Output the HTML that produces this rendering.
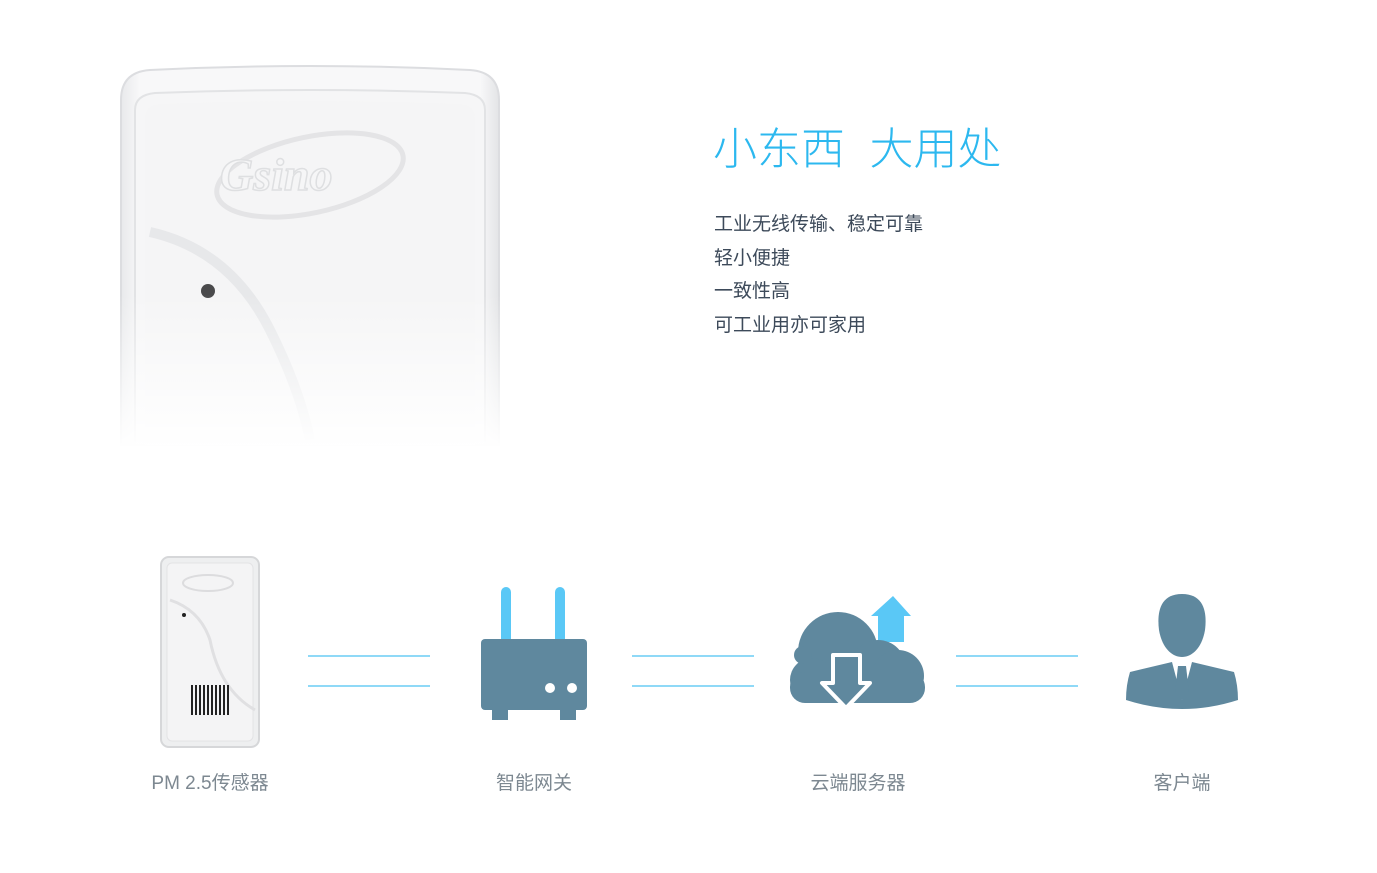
<!DOCTYPE html>
<html><head><meta charset="utf-8"><style>
html,body{margin:0;padding:0;background:#fff;width:1377px;height:873px;overflow:hidden;position:relative;font-family:"Liberation Sans","Noto Sans CJK SC",sans-serif}
.t{position:absolute;white-space:nowrap}
.title{left:713px;top:113px;font-size:44px;color:#2cb8ef;font-weight:300;letter-spacing:0px}
.li{left:714px;font-size:19px;color:#3d4a5a;line-height:24px}
.lab{font-size:19px;color:#7d8891;top:768px;text-align:center;width:200px}
.ln{position:absolute;height:2px;background:#8fd9f7;width:122px}
</style></head><body>
<svg width="1377" height="873" style="position:absolute;left:0;top:0">
<defs>
<linearGradient id="fade" x1="0" y1="0" x2="0" y2="1">
<stop offset="0" stop-color="#fff" stop-opacity="0"/>
<stop offset="0.6" stop-color="#fff" stop-opacity="0"/>
<stop offset="1" stop-color="#fff" stop-opacity="1"/>
</linearGradient>
<linearGradient id="body" x1="0" y1="0" x2="1" y2="0">
<stop offset="0" stop-color="#e8e9eb"/><stop offset="0.05" stop-color="#f8f8f9"/><stop offset="0.95" stop-color="#f8f8f9"/><stop offset="1" stop-color="#e3e4e6"/>
</linearGradient>
</defs>
<path d="M121 100 Q121 72 150 70 Q310 62 470 70 Q499 72 499 100 L499 445 L121 445 Z" fill="url(#body)" stroke="#dcdde0" stroke-width="2"/>
<path d="M135 110 Q135 95 155 93 Q310 87 465 93 Q485 95 485 110 L485 445 L135 445 Z" fill="#f6f6f7" stroke="#e2e3e5" stroke-width="2"/>
<path d="M145 118 Q145 105 160 104 Q310 98 460 104 Q475 105 475 118 L475 445 L145 445 Z" fill="#f5f5f6"/>
<ellipse cx="310" cy="175" rx="95" ry="38" transform="rotate(-12 310 175)" fill="none" stroke="#e4e4e6" stroke-width="5"/>
<text x="220" y="190" font-family="Liberation Serif,serif" font-style="italic" font-weight="bold" font-size="46" fill="#f6f6f7" stroke="#dedfe1" stroke-width="1.5">Gsino</text>
<path d="M150 232 Q230 250 270 330 Q300 390 310 440" fill="none" stroke="#e4e5e7" stroke-width="10" opacity="0.8"/>
<circle cx="208" cy="291" r="7" fill="#4a4a4c"/>
<rect x="110" y="60" width="400" height="390" fill="url(#fade)"/>
<rect x="161" y="557" width="98" height="190" rx="8" fill="#eeeff0" stroke="#d6d7d9" stroke-width="2"/>
<rect x="167" y="563" width="86" height="178" rx="5" fill="#f4f4f5" stroke="#e3e3e5"/>
<ellipse cx="208" cy="583" rx="25" ry="8" fill="none" stroke="#dcdcde" stroke-width="2"/>
<path d="M170 600 Q200 610 210 640 Q220 690 255 710" fill="none" stroke="#e0e0e2" stroke-width="3"/>
<circle cx="184" cy="615" r="2" fill="#222"/>
<g fill="#222">
<rect x="191" y="685" width="2" height="30"/><rect x="195" y="685" width="2" height="30"/><rect x="199" y="685" width="2" height="30"/><rect x="203" y="685" width="2" height="30"/><rect x="207" y="685" width="2" height="30"/><rect x="211" y="685" width="2" height="30"/><rect x="215" y="685" width="2" height="30"/><rect x="219" y="685" width="2" height="30"/><rect x="223" y="685" width="2" height="30"/><rect x="227" y="685" width="2" height="30"/>
</g>
<rect x="501" y="587" width="10" height="58" rx="5" fill="#5ac8f6"/>
<rect x="555" y="587" width="10" height="58" rx="5" fill="#5ac8f6"/>
<rect x="481" y="639" width="106" height="71" rx="4" fill="#5f889e"/>
<rect x="492" y="706" width="16" height="14" fill="#5f889e"/>
<rect x="560" y="706" width="16" height="14" fill="#5f889e"/>
<circle cx="550" cy="688" r="5" fill="#fff"/><circle cx="572" cy="688" r="5" fill="#fff"/>
<path d="M893 596 L871 616 L878 616 L878 642 L904 642 L904 616 L911 616 Z" fill="#5ac8f6"/>
<g fill="#5f889e">
<circle cx="838" cy="652" r="40"/><circle cx="878" cy="668" r="28"/><circle cx="898" cy="676" r="26"/><circle cx="812" cy="680" r="22"/><circle cx="803" cy="655" r="9"/>
<rect x="790" y="672" width="135" height="31" rx="15"/>
</g>
<path d="M833 655 L860 655 L860 683 L870 683 L846 708 L822 683 L833 683 Z" fill="#5f889e" stroke="#fff" stroke-width="4" stroke-linejoin="round"/>
<g fill="#5f889e">
<path d="M1182 594 C1205 594 1207 614 1205 630 C1202 648 1192 657 1182 657 C1172 657 1162 648 1159 630 C1157 614 1159 594 1182 594 Z"/>
<path d="M1130 672 L1172 662 L1182 700 L1192 662 L1234 672 Q1238 685 1238 700 Q1182 718 1126 700 Q1126 685 1130 672 Z"/>
<path d="M1178 666 L1186 666 L1189 692 L1182 700 L1175 692 Z"/>
</g>
</svg>
<div class="t title">小东西&nbsp;&nbsp;大用处</div>
<div class="t li" style="top:213px">工业无线传输、稳定可靠</div>
<div class="t li" style="top:247px">轻小便捷</div>
<div class="t li" style="top:280px">一致性高</div>
<div class="t li" style="top:314px">可工业用亦可家用</div>
<div class="ln" style="left:308px;top:655px"></div><div class="ln" style="left:308px;top:685px"></div>
<div class="ln" style="left:632px;top:655px"></div><div class="ln" style="left:632px;top:685px"></div>
<div class="ln" style="left:956px;top:655px"></div><div class="ln" style="left:956px;top:685px"></div>
<div class="t lab" style="left:110px">PM 2.5传感器</div>
<div class="t lab" style="left:434px">智能网关</div>
<div class="t lab" style="left:758px">云端服务器</div>
<div class="t lab" style="left:1082px">客户端</div>
</body></html>
